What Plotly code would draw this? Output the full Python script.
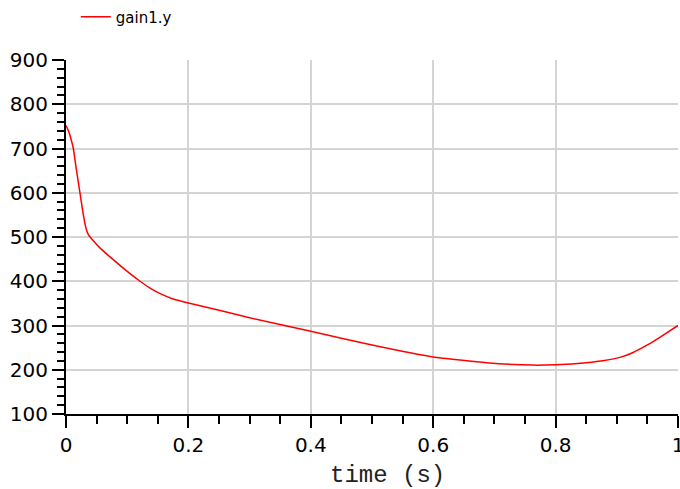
import plotly.graph_objects as go

# gain1.y
time = [0.0, 0.004, 0.008, 0.012, 0.017, 0.023, 0.028, 0.033, 0.037, 0.04, 0.055,
        0.072, 0.095, 0.121, 0.138, 0.154, 0.175, 0.2, 0.252, 0.295, 0.4, 0.5,
        0.6, 0.687, 0.763, 0.8, 0.85, 0.88, 0.905, 0.925, 0.95, 0.971, 1.0]
gain1_y = [752, 740, 722, 700, 652, 598, 553, 518, 504, 499, 476,
           455, 428, 400, 384, 372, 360, 351, 334, 319, 287, 256,
           229, 216, 210.5, 211.5, 216, 221, 228, 238, 256, 274, 300]

fig = go.Figure()
fig.add_trace(
    go.Scatter(
        x=time,
        y=gain1_y,
        mode="lines",
        name="gain1.y",
        line=dict(color="#ff0000", width=1.5, shape="spline", smoothing=0.4),
    )
)

axis_common = dict(
    automargin=False,
    ticklabeloverflow="allow",
    showgrid=True,
    gridcolor="#d4d4d4",
    gridwidth=1.5,
    zeroline=False,
    showline=True,
    linecolor="#000000",
    linewidth=2,
    ticks="outside",
    ticklen=12,
    tickwidth=1.5,
    tickcolor="#000000",
    tickfont=dict(family="DejaVu Sans", size=20, color="#000000"),
)

fig.update_xaxes(
    range=[0, 1],
    dtick=0.2,
    tickformat="~g",
    minor=dict(dtick=0.05, ticks="outside", ticklen=8, tickwidth=1.5,
               tickcolor="#000000", showgrid=False),
    **axis_common,
)
fig.update_yaxes(
    range=[100, 900],
    dtick=100,
    minor=dict(dtick=20, ticks="outside", ticklen=7, tickwidth=1.5,
               tickcolor="#000000", showgrid=False),
    **axis_common,
)

# x axis title placed as an annotation, as in the reference
fig.add_annotation(
    text="time (s)",
    xref="paper", yref="paper",
    x=0.526, y=-0.1746,
    xanchor="center", yanchor="middle",
    showarrow=False,
    font=dict(family="Liberation Mono", size=24, color="#222222"),
)

fig.update_layout(
    width=680,
    height=489,
    margin=dict(l=66, r=2, t=59, b=75),
    plot_bgcolor="white",
    paper_bgcolor="white",
    showlegend=True,
    legend=dict(
        x=0.016, y=1.118, xanchor="left", yanchor="middle",
        xref="paper", yref="paper",
        font=dict(family="DejaVu Sans", size=15, color="#000000"),
        bgcolor="rgba(0,0,0,0)",
    ),
)

# drop the default page margin so the figure sits at the window corner
fig.write_html(
    "out.html",
    config={"displayModeBar": False},
    post_script="document.body.style.margin='0';",
)
